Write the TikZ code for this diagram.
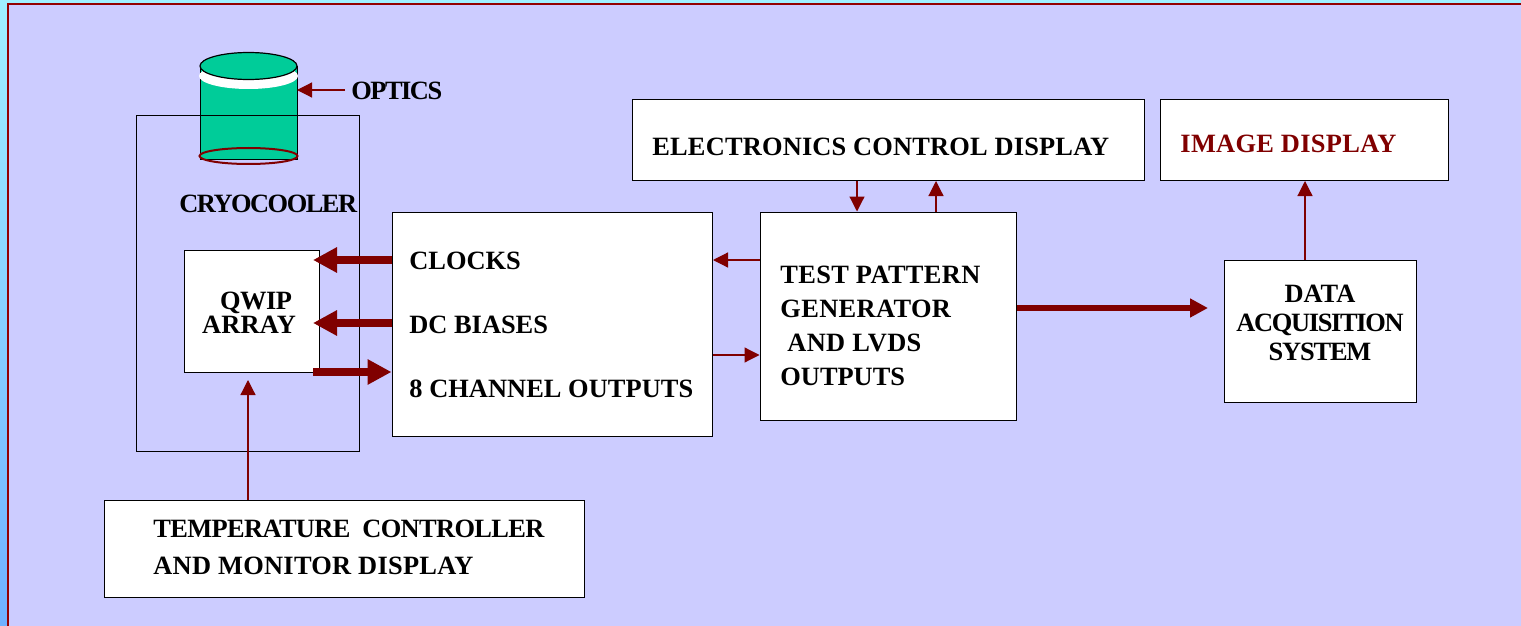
\documentclass[tikz,border=0pt]{standalone}
\usepackage{fontspec}
\setmainfont{Liberation Serif}
\usetikzlibrary{arrows.meta,fit}
\definecolor{panelblue}{HTML}{CCCCFF}
\definecolor{darkred}{HTML}{800000}
\definecolor{cylgreen}{HTML}{00CC99}
\definecolor{pagetop}{HTML}{A0F0FF}
\definecolor{pagebottom}{HTML}{70B0FF}
\newcommand{\spaced}[2]{{\addfontfeature{LetterSpace=#1}#2}}
\tikzset{
boxnode/.style={draw=black,fill=white,line width=.5pt,inner sep=0pt},
lbl/.style={font=\fontsize{13.2}{15}\selectfont\bfseries,inner sep=0pt,anchor=west},
thinarrow/.style={draw=darkred,line width=.6pt,-{Triangle[length=7.5pt,width=7.5pt]}},
midarrow/.style={draw=darkred,line width=3pt,-{Triangle[length=9pt,width=9pt]}},
thickarrow/.style={draw=darkred,line width=4pt,-{Triangle[length=12pt,width=12pt]}},
}
\begin{document}
\begin{tikzpicture}[x=.5pt,y=-.5pt]
\useasboundingbox (0,0) rectangle (1521,626);
% page background
\shade[top color=pagetop,bottom color=pagebottom] (0,0) rectangle (9,626);
\fill[pagetop] (0,0) rectangle (1521,5);
\fill[panelblue] (8,4) rectangle (1521,626);
\draw[darkred!85!red,line width=.9pt] (8,626) -- (8,4) -- (1521,4);

% optics
\fill[cylgreen] (200,66) rectangle (297,160);
\draw[line width=.5pt] (200,66) -- (200,160) -- (297,160) -- (297,66);
\fill[white] (248.5,76) ellipse [x radius=49.5,y radius=13];
\draw[fill=cylgreen,line width=.6pt] (248.5,66) ellipse [x radius=48.5,y radius=13.5];
\draw[darkred,line width=1pt] (248.5,156) ellipse [x radius=49,y radius=8];
\coordinate (cylinderedge) at (297,90);

% boxes
\node[draw=black,line width=.5pt,inner sep=0pt,fit={(136,116)(359.5,451)}] (cryo) {};
\node[boxnode,fit={(392,212)(712.5,436)}] (signals) {};
\node[boxnode,fit={(184,250)(319,372)}] (qwip) {};
\node[boxnode,fit={(632,100)(1144.5,180.5)}] (ecd) {};
\node[boxnode,fit={(1160,100)(1448.5,180.5)}] (imagebox) {};
\node[boxnode,fit={(760,212)(1016.5,420)}] (tpg) {};
\node[boxnode,fit={(1224,260)(1416.5,402.5)}] (daq) {};
\node[boxnode,fit={(104,500)(584.5,597)}] (tempbox) {};

% labels
\node[lbl] (optics) at (351,91) {\spaced{-5.7}{OPTICS}};
\node[lbl] (cryolbl) at (179,204) {\spaced{-5.7}{CRYOCOOLER}};
\node[lbl,align=center,anchor=center,font=\fontsize{13.2}{12}\selectfont\bfseries] (qwiplbl) at (249,313) {\hspace{7pt}\spaced{-2}{QWIP}\\\spaced{1}{ARRAY}};
\node[lbl] (clocks) at (409,261) {CLOCKS};
\node[lbl] (biases) at (409,325) {DC BIASES};
\node[lbl] (outputs) at (409,389) {\spaced{.2}{8 CHANNEL OUTPUTS}};
\node[lbl] (ecdlbl) at (652,147) {\spaced{.7}{ELECTRONICS CONTROL DISPLAY}};
\node[lbl,text=darkred] (imagelbl) at (1180,144) {\spaced{1.2}{IMAGE DISPLAY}};
\node[lbl,align=left,font=\fontsize{13.2}{16.9}\selectfont\bfseries] (tpglbl) at (780,326) {\spaced{1.4}{TEST PATTERN}\\\spaced{1.4}{GENERATOR}\\\hspace{3.5pt}\spaced{1.4}{AND LVDS}\\OUTPUTS};
\node[lbl,align=center,anchor=center,font=\fontsize{13.2}{14.5}\selectfont\bfseries] (daqlbl) at (1320,323) {DATA\\\spaced{-5}{ACQUISITION}\\\spaced{-4.5}{SYSTEM}};
\node[lbl,align=left,font=\fontsize{13.2}{18.5}\selectfont\bfseries] (templbl) at (153,547) {\spaced{-2.4}{TEMPERATURE\ \ CONTROLLER}\\\spaced{1.1}{AND MONITOR DISPLAY}};

% free ends of the arrows
\coordinate (opticstail) at (345,90);
\coordinate (ctrldown) at (857,0);
\coordinate (ctrlup) at (936,0);
\coordinate (lowlink) at (0,355);
\coordinate (uplink) at (0,260);
\coordinate (datalink) at (0,308);
\coordinate (imagelink) at (1305,0);
\coordinate (templink) at (248,0);
\coordinate (temptip) at (248,380);
\coordinate (qwiptip) at (313,0);
\coordinate (clockslink) at (0,260);
\coordinate (biaslink) at (0,323);
\coordinate (qwipout) at (0,372);
\coordinate (daqtip) at (1208,0);

\draw[thinarrow] (opticstail) -- (cylinderedge);
\draw[thickarrow] (signals.west |- clockslink) -- (qwiptip |- clockslink);
\draw[thickarrow] (signals.west |- biaslink) -- (qwiptip |- biaslink);
\draw[thickarrow] (qwiptip |- qwipout) -- (signals.west |- qwipout);
\draw[thinarrow] (ecd.south -| ctrldown) -- (tpg.north -| ctrldown);
\draw[thinarrow] (tpg.north -| ctrlup) -- (ecd.south -| ctrlup);
\draw[thinarrow] (tpg.west |- uplink) -- (signals.east |- uplink);
\draw[thinarrow] (signals.east |- lowlink) -- (tpg.west |- lowlink);
\draw[midarrow] (tpg.east |- datalink) -- (daqtip |- datalink);
\draw[thinarrow] (daq.north -| imagelink) -- (imagebox.south -| imagelink);
\draw[thinarrow] (tempbox.north -| templink) -- (temptip);
\end{tikzpicture}
\end{document}
